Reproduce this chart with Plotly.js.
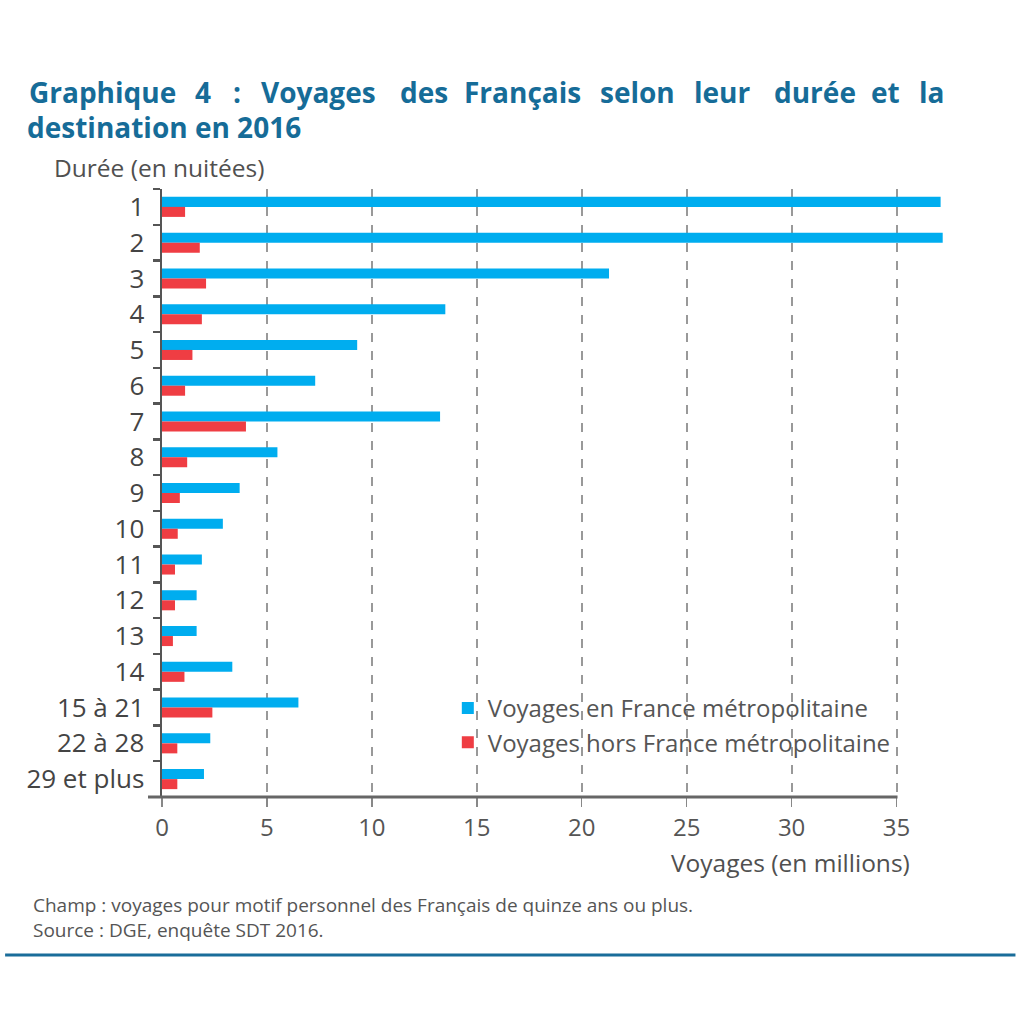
<!DOCTYPE html>
<html><head><meta charset="utf-8">
<script src="https://cdn.plot.ly/plotly-3.0.1.min.js"></script>
<style>html,body{margin:0;padding:0;background:#fff}#chart{width:1024px;height:1024px}</style>
</head><body><div id="chart"></div>
<script>
const categories = ["1","2","3","4","5","6","7","8","9","10","11","12","13","14","15 à 21","22 à 28","29 et plus"];
const franceMetro = [37.1,37.2,21.3,13.5,9.3,7.3,13.25,5.5,3.7,2.9,1.9,1.65,1.65,3.35,6.5,2.3,2.0];
const horsFrance = [1.1,1.8,2.1,1.9,1.45,1.1,4.0,1.2,0.85,0.75,0.62,0.62,0.52,1.07,2.4,0.73,0.73];
const xTicks = [0,5,10,15,20,25,30,35];
const seriesNames = ["Voyages en France métropolitaine","Voyages hors France métropolitaine"];

const W=1024,H=1024, L=162, R=949.5, T=189, B=797;
const px = x => (x-L)/(R-L);
const py = y => (B-y)/(B-T);
const fontMain = "Open Sans, sans-serif";
const titleLine1 = ["Graphique","4",":","Voyages","des","Français","selon","leur","durée","et","la"];
const titleX = [27,193,231,259,398,462,598,692,772,869,917];

const annotations = [];
titleLine1.forEach((w,i)=>annotations.push({text:"<b>"+w+"</b>",xref:"paper",yref:"paper",x:px(titleX[i]),y:py(92),xanchor:"left",yanchor:"middle",showarrow:false,font:{family:fontMain,size:28,color:"#166c98"}}));
annotations.push({text:"<b>destination en 2016</b>",xref:"paper",yref:"paper",x:px(25),y:py(127),xanchor:"left",yanchor:"middle",showarrow:false,font:{family:fontMain,size:28,color:"#166c98"}});
annotations.push({text:"Durée (en nuitées)",xref:"paper",yref:"paper",x:px(52),y:py(168),xanchor:"left",yanchor:"middle",showarrow:false,font:{family:fontMain,size:24.5,color:"#505050"}});
annotations.push({text:"Voyages (en millions)",xref:"paper",yref:"paper",x:px(912),y:py(862),xanchor:"right",yanchor:"middle",showarrow:false,font:{family:fontMain,size:24.5,color:"#505050"}});
annotations.push({text:"Champ : voyages pour motif personnel des Français de quinze ans ou plus.<br>Source : DGE, enquête SDT 2016.",align:"left",xref:"paper",yref:"paper",x:px(31),y:py(917),xanchor:"left",yanchor:"middle",showarrow:false,font:{family:fontMain,size:19,color:"#555"}});

const data = [
 {type:"bar",orientation:"h",name:seriesNames[0],y:categories,x:franceMetro,marker:{color:"#00adef"}},
 {type:"bar",orientation:"h",name:seriesNames[1],y:categories,x:horsFrance,marker:{color:"#ef3d43"}}
];
const layout = {
 width:W,height:H,paper_bgcolor:"#fff",plot_bgcolor:"#fff",
 margin:{l:L,r:W-R,t:T,b:H-B,pad:0},
 barmode:"group",bargap:0.44,bargroupgap:0,
 showlegend:true,
 legend:{x:px(448),y:py(686),xanchor:"left",yanchor:"top",bgcolor:"rgba(0,0,0,0)",font:{family:fontMain,size:24,color:"#555"},tracegroupgap:0,itemwidth:30},
 xaxis:{range:[0,37.5],tickvals:xTicks,ticks:"outside",ticklen:9,tickcolor:"#888",tickwidth:1.5,showgrid:true,gridcolor:"#999",gridwidth:2,griddash:"dash",zeroline:false,showline:false,tickfont:{family:fontMain,size:24,color:"#555"},fixedrange:true},
 yaxis:{type:"category",autorange:"reversed",ticks:"outside",tickson:"boundaries",ticklen:7,tickwidth:2.5,tickcolor:"#555",showline:true,linecolor:"#555",linewidth:2.5,showgrid:false,zeroline:false,tickfont:{family:fontMain,size:26,color:"#444"},ticklabelstandoff:10},
 shapes:[
  {type:"line",xref:"paper",yref:"paper",x0:px(148),x1:px(898),y0:0,y1:0,line:{color:"#666",width:3}},
  {type:"line",xref:"paper",yref:"paper",x0:px(5),x1:px(1016),y0:py(955),y1:py(955),line:{color:"#1a6d9a",width:3}}
 ],
 annotations:annotations
};
Plotly.newPlot("chart",data,layout,{displayModeBar:false,staticPlot:true});
</script></body></html>
